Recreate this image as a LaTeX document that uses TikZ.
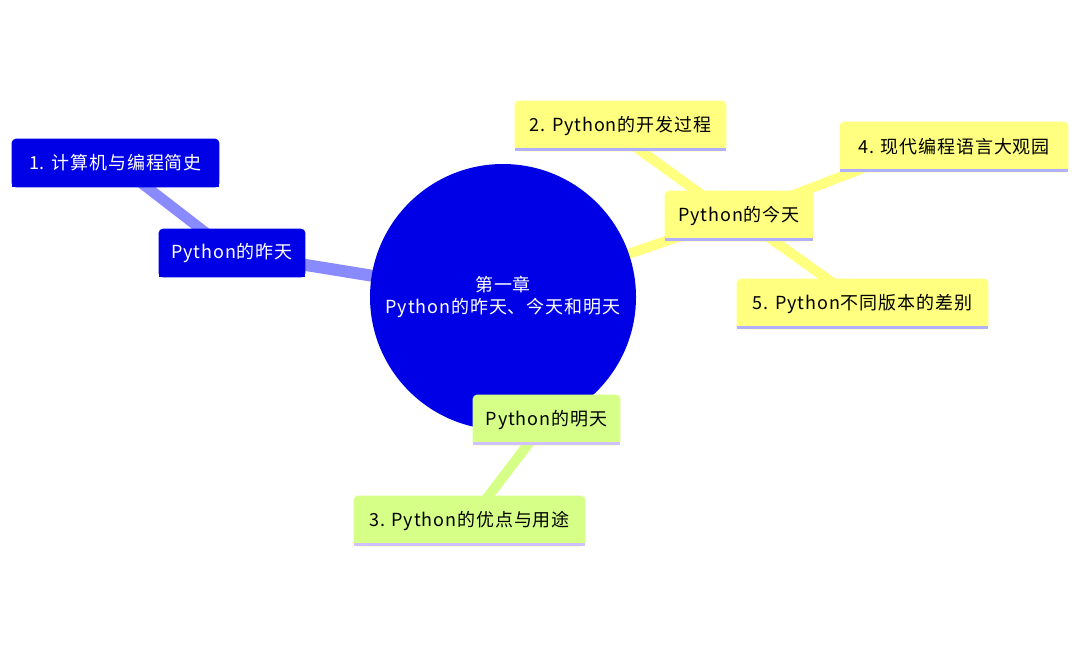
\documentclass[tikz,border=0pt]{standalone}
\usepackage{fontspec}
\setmainfont[LetterSpace=5]{Noto Sans CJK SC}
\usetikzlibrary{calc}
\definecolor{mmblue}{RGB}{0,0,230}
\definecolor{linkblue}{RGB}{138,138,255}
\definecolor{mmyellow}{RGB}{255,255,128}
\definecolor{mmgreen}{RGB}{214,255,136}
\definecolor{ulyellow}{RGB}{176,176,255}
\definecolor{ulgreen}{RGB}{208,192,255}
\pgfdeclarelayer{lines}
\pgfdeclarelayer{boxes}
\pgfsetlayers{lines,boxes,main}
\newcommand\mmbox[2]{%
  \fill[#2,rounded corners=3pt] (#1.south west) rectangle (#1.north east);
  \fill[#2] (#1.south west) rectangle (#1.east);}
\newcommand\mmline[2]{%
  \fill[#2] ($(#1.south west)+(0,-3)$) rectangle (#1.south east);}
\begin{document}
\begin{tikzpicture}[x=0.75pt,y=-0.75pt,
  txt/.style={inner sep=0pt, font=\fontsize{13.5}{16}\selectfont},
  sz/.style 2 args={minimum width={#1*0.75pt}, minimum height={#2*0.75pt}},
  wtxt/.style={txt,text=white},
  btxt/.style={txt,text=black},
  bluelink/.style={draw=linkblue,line width=9pt},
  yellowlink/.style={draw=mmyellow,line width=7.5pt},
  greenlink/.style={draw=mmgreen,line width=7.5pt}]
\useasboundingbox (0,0) rectangle (1080,647);

\node[wtxt,align=center,circle,minimum size={266*0.75pt}] (c) at (503,297)
  {第一章\\[0pt]Python的昨天、今天和明天};

\node[wtxt,sz={146}{48}] (yest) at (232,253) {Python的昨天};
\node[wtxt,sz={207}{48}] (h1) at (115.5,163) {1. 计算机与编程简史};

\node[btxt,sz={148}{50}] (today) at (739,216) {Python的今天};
\node[btxt,sz={211}{50}] (h2) at (620.5,126) {2. Python的开发过程};
\node[btxt,sz={228}{50}] (h4) at (954,147) {4. 现代编程语言大观园};
\node[btxt,sz={251}{50}] (h5) at (862.5,304) {5. Python不同版本的差别};

\node[btxt,sz={147}{50}] (tomo) at (546.5,420) {Python的明天};
\node[btxt,sz={231}{50}] (h3) at (469.5,521) {3. Python的优点与用途};

\begin{pgfonlayer}{lines}
\draw[bluelink] (c.center) -- (yest.center);
\draw[bluelink,line width=8pt] (yest.center) -- (h1.center);
\draw[yellowlink] (c.center) -- (today.center);
\draw[yellowlink] ($(today.center)+(-8,0)$) -- ($(h2.center)+(-14,0)$);
\draw[yellowlink] (today.center) -- ($(h4.center)+(0,-14)$);
\draw[yellowlink] (today.center) -- (h5.center);
\draw[greenlink] (tomo.center) -- (h3.center);
\end{pgfonlayer}

\begin{pgfonlayer}{boxes}
\fill[mmblue] (c.center) circle (133);
\mmbox{yest}{mmblue}
\mmbox{h1}{mmblue}
\mmbox{today}{mmyellow}\mmline{today}{ulyellow}
\mmbox{h2}{mmyellow}\mmline{h2}{ulyellow}
\mmbox{h4}{mmyellow}\mmline{h4}{ulyellow}
\mmbox{h5}{mmyellow}\mmline{h5}{ulyellow}
\mmbox{tomo}{mmgreen}\mmline{tomo}{ulgreen}
\mmbox{h3}{mmgreen}\mmline{h3}{ulgreen}
\end{pgfonlayer}
\end{tikzpicture}
\end{document}
